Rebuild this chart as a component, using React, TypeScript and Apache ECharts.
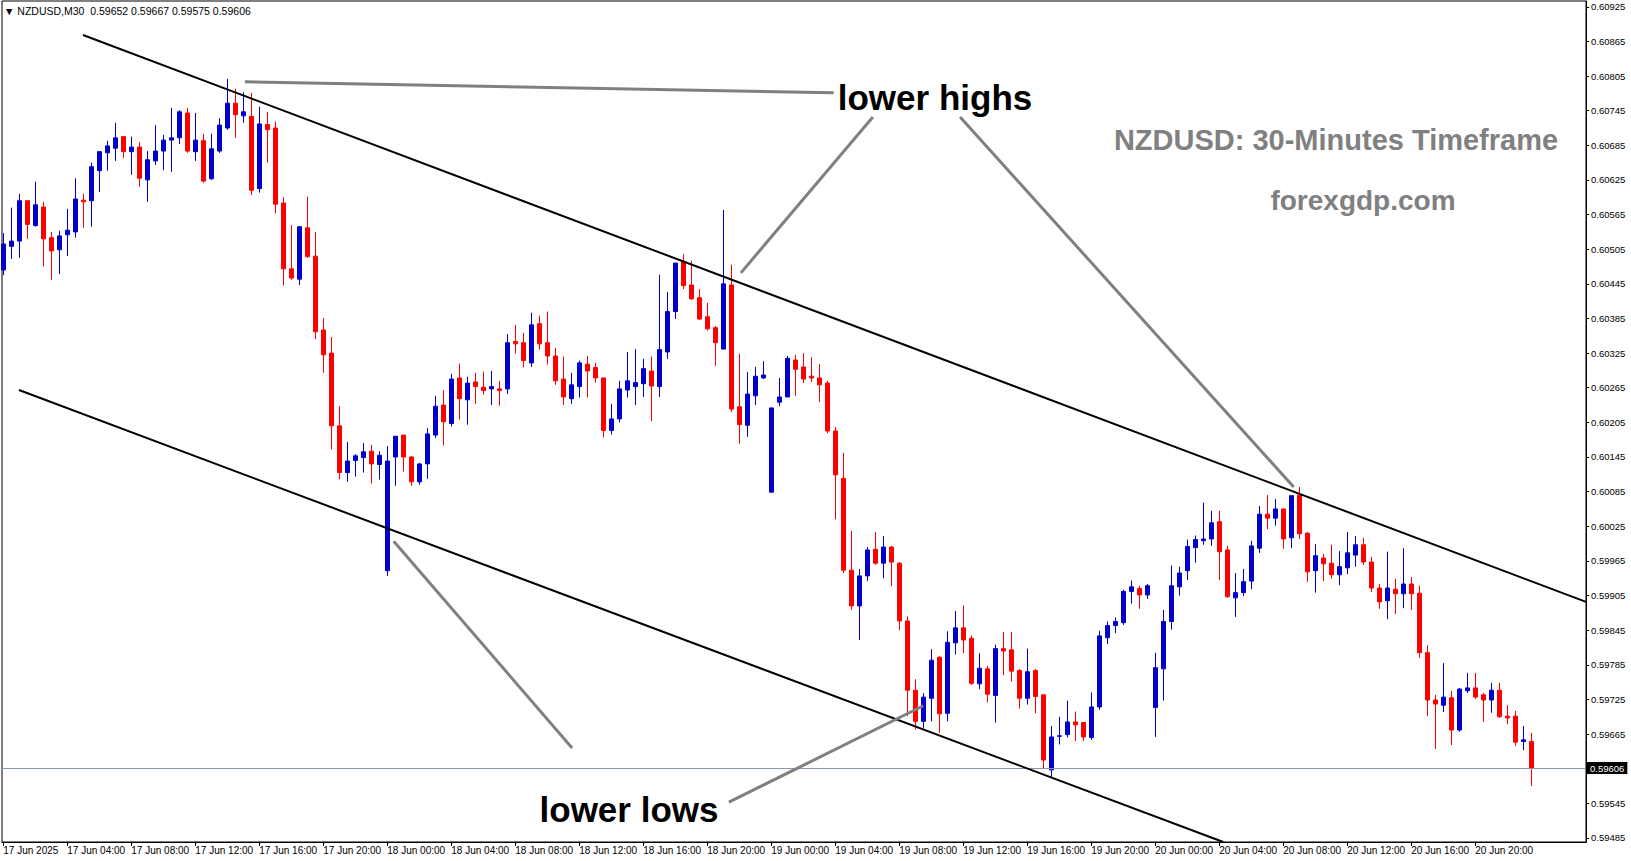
import React, { useEffect, useRef } from 'react';
import * as echarts from 'echarts';

// ---- Data: NZDUSD M30 candles (index 0 = 17 Jun 2025 00:00) ----
const OPEN = [
  0.60469, 0.60510, 0.60519, 0.60589, 0.60546, 0.60578, 0.60525, 0.60504, 0.60530, 0.60535,
  0.60590, 0.60589, 0.60641, 0.60672, 0.60680, 0.60700, 0.60674, 0.60682, 0.60625, 0.60658,
  0.60675, 0.60694, 0.60698, 0.60741, 0.60674, 0.60693, 0.60627, 0.60675, 0.60715, 0.60758,
  0.60736, 0.60735, 0.60610, 0.60721, 0.60715, 0.60585, 0.60471, 0.60453, 0.60542, 0.60493,
  0.60365, 0.60325, 0.60199, 0.60118, 0.60139, 0.60144, 0.60155, 0.60132, 0.59948, 0.60145,
  0.60183, 0.60145, 0.60102, 0.60133, 0.60183, 0.60235, 0.60203, 0.60282, 0.60244, 0.60275,
  0.60266, 0.60263, 0.60263, 0.60263, 0.60345, 0.60343, 0.60308, 0.60376, 0.60343, 0.60320,
  0.60280, 0.60246, 0.60267, 0.60306, 0.60300, 0.60282, 0.60191, 0.60211, 0.60261, 0.60267,
  0.60272, 0.60294, 0.60267, 0.60327, 0.60397, 0.60483, 0.60443, 0.60421, 0.60388, 0.60369,
  0.60332, 0.60443, 0.60232, 0.60200, 0.60251, 0.60282, 0.60084, 0.60240, 0.60249, 0.60313,
  0.60301, 0.60285, 0.60282, 0.60273, 0.60190, 0.60108, 0.59949, 0.59887, 0.59939, 0.59985,
  0.59961, 0.59989, 0.59961, 0.59861, 0.59741, 0.59687, 0.59727, 0.59798, 0.59701, 0.59823,
  0.59849, 0.59831, 0.59752, 0.59778, 0.59732, 0.59813, 0.59811, 0.59775, 0.59727, 0.59775,
  0.59733, 0.59603, 0.59661, 0.59664, 0.59686, 0.59685, 0.59659, 0.59712, 0.59832, 0.59853,
  0.59858, 0.59912, 0.59917, 0.59906, 0.59711, 0.59778, 0.59860, 0.59920, 0.59948, 0.59988,
  0.60000, 0.60003, 0.60033, 0.59984, 0.59901, 0.59910, 0.59930, 0.59987, 0.60046, 0.60039,
  0.60055, 0.60005, 0.60079, 0.60013, 0.59948, 0.59970, 0.59961, 0.59941, 0.59953, 0.59975,
  0.59993, 0.59963, 0.59918, 0.59896, 0.59916, 0.59908, 0.59925, 0.59909, 0.59806, 0.59724,
  0.59715, 0.59728, 0.59672, 0.59740, 0.59745, 0.59733, 0.59724, 0.59741, 0.59696, 0.59696,
  0.59652, 0.59652,
];
const HIGH = [
  0.60533, 0.60577, 0.60601, 0.60589, 0.60622, 0.60587, 0.60535, 0.60537, 0.60575, 0.60628,
  0.60601, 0.60655, 0.60674, 0.60693, 0.60724, 0.60701, 0.60700, 0.60691, 0.60675, 0.60720,
  0.60703, 0.60750, 0.60746, 0.60750, 0.60741, 0.60705, 0.60705, 0.60732, 0.60800, 0.60783,
  0.60777, 0.60776, 0.60752, 0.60743, 0.60726, 0.60595, 0.60547, 0.60544, 0.60596, 0.60535,
  0.60386, 0.60353, 0.60233, 0.60171, 0.60150, 0.60169, 0.60166, 0.60155, 0.60164, 0.60181,
  0.60183, 0.60147, 0.60135, 0.60195, 0.60251, 0.60261, 0.60289, 0.60307, 0.60284, 0.60291,
  0.60293, 0.60294, 0.60277, 0.60358, 0.60374, 0.60360, 0.60395, 0.60390, 0.60397, 0.60334,
  0.60319, 0.60291, 0.60312, 0.60320, 0.60308, 0.60282, 0.60237, 0.60277, 0.60327, 0.60332,
  0.60315, 0.60319, 0.60461, 0.60431, 0.60481, 0.60497, 0.60485, 0.60436, 0.60412, 0.60372,
  0.60573, 0.60478, 0.60324, 0.60292, 0.60301, 0.60311, 0.60230, 0.60282, 0.60320, 0.60322,
  0.60325, 0.60318, 0.60306, 0.60277, 0.60197, 0.60152, 0.60017, 0.59951, 0.59989, 0.60015,
  0.60008, 0.59991, 0.59963, 0.59869, 0.59760, 0.59736, 0.59812, 0.59800, 0.59843, 0.59878,
  0.59888, 0.59836, 0.59805, 0.59783, 0.59820, 0.59842, 0.59842, 0.59778, 0.59813, 0.59778,
  0.59733, 0.59679, 0.59695, 0.59723, 0.59704, 0.59686, 0.59737, 0.59844, 0.59860, 0.59867,
  0.59915, 0.59931, 0.59922, 0.59925, 0.59806, 0.59880, 0.59957, 0.59955, 0.60002, 0.60009,
  0.60066, 0.60052, 0.60052, 0.59991, 0.59944, 0.59951, 0.60000, 0.60060, 0.60079, 0.60072,
  0.60055, 0.60078, 0.60093, 0.60015, 0.59994, 0.59977, 0.59993, 0.59982, 0.60015, 0.60008,
  0.60005, 0.59972, 0.59925, 0.59981, 0.59934, 0.59987, 0.59937, 0.59922, 0.59819, 0.59733,
  0.59788, 0.59740, 0.59745, 0.59771, 0.59771, 0.59736, 0.59754, 0.59754, 0.59715, 0.59705,
  0.59679, 0.59667,
];
const LOW = [
  0.60460, 0.60488, 0.60490, 0.60523, 0.60544, 0.60475, 0.60452, 0.60462, 0.60493, 0.60525,
  0.60542, 0.60544, 0.60604, 0.60641, 0.60658, 0.60663, 0.60634, 0.60613, 0.60587, 0.60651,
  0.60642, 0.60639, 0.60687, 0.60672, 0.60658, 0.60620, 0.60625, 0.60672, 0.60712, 0.60698,
  0.60724, 0.60599, 0.60603, 0.60655, 0.60567, 0.60442, 0.60452, 0.60443, 0.60490, 0.60349,
  0.60291, 0.60158, 0.60106, 0.60102, 0.60111, 0.60118, 0.60099, 0.60106, 0.59939, 0.60095,
  0.60120, 0.60095, 0.60097, 0.60107, 0.60178, 0.60165, 0.60198, 0.60210, 0.60201, 0.60237,
  0.60253, 0.60235, 0.60234, 0.60254, 0.60324, 0.60300, 0.60301, 0.60331, 0.60305, 0.60270,
  0.60235, 0.60237, 0.60248, 0.60248, 0.60274, 0.60179, 0.60184, 0.60205, 0.60248, 0.60235,
  0.60249, 0.60207, 0.60249, 0.60315, 0.60384, 0.60436, 0.60417, 0.60383, 0.60364, 0.60303,
  0.60331, 0.60223, 0.60168, 0.60180, 0.60235, 0.60280, 0.60084, 0.60233, 0.60249, 0.60251,
  0.60273, 0.60275, 0.60240, 0.60186, 0.60037, 0.59944, 0.59880, 0.59828, 0.59930, 0.59958,
  0.59935, 0.59921, 0.59845, 0.59696, 0.59673, 0.59675, 0.59687, 0.59667, 0.59687, 0.59803,
  0.59805, 0.59750, 0.59743, 0.59720, 0.59685, 0.59767, 0.59756, 0.59709, 0.59716, 0.59701,
  0.59606, 0.59589, 0.59647, 0.59659, 0.59653, 0.59653, 0.59655, 0.59707, 0.59821, 0.59840,
  0.59854, 0.59891, 0.59882, 0.59899, 0.59660, 0.59723, 0.59846, 0.59905, 0.59932, 0.59962,
  0.59993, 0.59991, 0.59932, 0.59901, 0.59868, 0.59904, 0.59916, 0.59979, 0.60020, 0.60026,
  0.59986, 0.59987, 0.60003, 0.59929, 0.59910, 0.59930, 0.59934, 0.59923, 0.59942, 0.59955,
  0.59958, 0.59911, 0.59882, 0.59864, 0.59873, 0.59883, 0.59880, 0.59797, 0.59696, 0.59639,
  0.59703, 0.59646, 0.59669, 0.59736, 0.59726, 0.59686, 0.59702, 0.59693, 0.59682, 0.59644,
  0.59637, 0.59575,
];
const CLOSE = [
  0.60514, 0.60519, 0.60589, 0.60548, 0.60582, 0.60523, 0.60502, 0.60528, 0.60538, 0.60592,
  0.60587, 0.60648, 0.60674, 0.60684, 0.60698, 0.60674, 0.60682, 0.60628, 0.60660, 0.60675,
  0.60694, 0.60698, 0.60743, 0.60675, 0.60694, 0.60623, 0.60679, 0.60720, 0.60758, 0.60738,
  0.60743, 0.60607, 0.60722, 0.60712, 0.60583, 0.60471, 0.60455, 0.60544, 0.60492, 0.60362,
  0.60322, 0.60199, 0.60118, 0.60138, 0.60147, 0.60154, 0.60133, 0.60148, 0.60138, 0.60181,
  0.60145, 0.60102, 0.60133, 0.60185, 0.60233, 0.60206, 0.60280, 0.60246, 0.60273, 0.60267,
  0.60260, 0.60267, 0.60260, 0.60343, 0.60341, 0.60312, 0.60374, 0.60341, 0.60320, 0.60277,
  0.60249, 0.60270, 0.60308, 0.60294, 0.60282, 0.60191, 0.60211, 0.60263, 0.60277, 0.60274,
  0.60298, 0.60268, 0.60331, 0.60397, 0.60481, 0.60442, 0.60419, 0.60384, 0.60367, 0.60343,
  0.60445, 0.60228, 0.60201, 0.60254, 0.60285, 0.60287, 0.60230, 0.60249, 0.60316, 0.60297,
  0.60280, 0.60282, 0.60270, 0.60190, 0.60114, 0.59949, 0.59887, 0.59939, 0.59984, 0.59961,
  0.59989, 0.59963, 0.59861, 0.59741, 0.59687, 0.59729, 0.59793, 0.59700, 0.59824, 0.59849,
  0.59828, 0.59753, 0.59779, 0.59734, 0.59813, 0.59809, 0.59774, 0.59727, 0.59773, 0.59730,
  0.59620, 0.59660, 0.59662, 0.59686, 0.59681, 0.59660, 0.59712, 0.59835, 0.59853, 0.59860,
  0.59912, 0.59920, 0.59906, 0.59922, 0.59780, 0.59860, 0.59922, 0.59944, 0.59990, 0.60002,
  0.60003, 0.60031, 0.59981, 0.59903, 0.59910, 0.59929, 0.59991, 0.60046, 0.60039, 0.60055,
  0.60003, 0.60078, 0.60012, 0.59946, 0.59974, 0.59960, 0.59941, 0.59955, 0.59979, 0.59993,
  0.59963, 0.59918, 0.59894, 0.59918, 0.59908, 0.59925, 0.59908, 0.59806, 0.59724, 0.59717,
  0.59729, 0.59672, 0.59743, 0.59745, 0.59729, 0.59724, 0.59741, 0.59695, 0.59693, 0.59651,
  0.59655, 0.59606,
];

const TIME_LABELS = [
  '17 Jun 2025', '17 Jun 04:00', '17 Jun 08:00', '17 Jun 12:00', '17 Jun 16:00', '17 Jun 20:00',
  '18 Jun 00:00', '18 Jun 04:00', '18 Jun 08:00', '18 Jun 12:00', '18 Jun 16:00', '18 Jun 20:00',
  '19 Jun 00:00', '19 Jun 04:00', '19 Jun 08:00', '19 Jun 12:00', '19 Jun 16:00', '19 Jun 20:00',
  '20 Jun 00:00', '20 Jun 04:00', '20 Jun 08:00', '20 Jun 12:00', '20 Jun 16:00', '20 Jun 20:00',
];
const BARS_PER_LABEL = 8;

const PRICE_TICKS = [
  0.59485, 0.59545, 0.59665, 0.59725, 0.59785, 0.59845, 0.59905, 0.59965, 0.60025,
  0.60085, 0.60145, 0.60205, 0.60265, 0.60325, 0.60385, 0.60445, 0.60505, 0.60565,
  0.60625, 0.60685, 0.60745, 0.60805, 0.60865, 0.60925,
];
const LAST_PRICE = 0.59606;
const HEADER_TEXT = '\u25BC NZDUSD,M30  0.59652 0.59667 0.59575 0.59606';

// Annotation lines in [bar index, price]
const UPPER_CHANNEL = [[9.96, 0.60876], [197.84, 0.59894]];
const LOWER_CHANNEL = [[1.96, 0.60261], [152.5, 0.59478]];
const HIGH_MARKER = [[30.2, 0.60795], [103.8, 0.60776]];
const POINTERS = [
  [[108.7, 0.60734], [92.2, 0.60464]],
  [[119.6, 0.60734], [161.3, 0.60093]],
  [[48.8, 0.59999], [71.1, 0.59641]],
  [[90.7, 0.59547], [115.0, 0.59714]],
];

const X_MIN = -0.1625;
const X_MAX = 197.84;
const Y_MIN = 0.59478;
const Y_MAX = 0.60935;

export default function App() {
  const ref = useRef<HTMLDivElement>(null);

  useEffect(() => {
    if (!ref.current) return;
    const chart = echarts.init(ref.current, undefined, { renderer: 'svg' });

    const data = OPEN.map((o, i) => [i, o, CLOSE[i], LOW[i], HIGH[i]]);
    const labelValues = TIME_LABELS.map((_, k) => k * BARS_PER_LABEL);

    const seg = (pts: number[][], color: string, width: number) => [
      { coord: pts[0], lineStyle: { color, width, type: 'solid' } },
      { coord: pts[1] },
    ];

    const font = 'Liberation Sans, Arial, sans-serif';

    chart.setOption({
      animation: false,
      backgroundColor: '#ffffff',
      grid: { left: 2, right: 45, top: 1, bottom: 19, show: true, borderColor: '#000', borderWidth: 1, backgroundColor: 'transparent' },
      xAxis: {
        type: 'value',
        min: X_MIN,
        max: X_MAX,
        splitLine: { show: false },
        axisLine: { show: true, onZero: false, lineStyle: { color: '#000', width: 1 } },
        axisTick: { show: true, length: 4, lineStyle: { color: '#000' }, customValues: labelValues },
        axisLabel: {
          show: true,
          customValues: labelValues,
          formatter: (v: number) => TIME_LABELS[Math.round(v / BARS_PER_LABEL)] ?? '',
          align: 'left',
          margin: 3,
          color: '#000',
          fontSize: 10,
          fontFamily: font,
        },
      },
      yAxis: {
        type: 'value',
        position: 'right',
        min: Y_MIN,
        max: Y_MAX,
        scale: true,
        splitLine: { show: false },
        axisLine: { show: true, onZero: false, lineStyle: { color: '#000', width: 1 } },
        axisTick: { show: true, length: 3, lineStyle: { color: '#000' }, customValues: PRICE_TICKS },
        axisLabel: {
          show: true,
          customValues: PRICE_TICKS,
          formatter: (v: number) => v.toFixed(5),
          margin: 5,
          color: '#000',
          fontSize: 9.5,
          fontFamily: font,
        },
      },
      series: [
        {
          type: 'candlestick',
          data,
          dimensions: ['idx', 'open', 'close', 'lowest', 'highest'],
          encode: { x: 0, y: [1, 2, 3, 4] },
          barWidth: 4,
          silent: true,
          itemStyle: {
            color: '#0000CD',
            color0: '#FF0000',
            borderColor: '#0000CD',
            borderColor0: '#FF0000',
            borderWidth: 1,
          },
          markLine: {
            silent: true,
            symbol: ['none', 'none'],
            label: { show: false },
            data: [
              [
                {
                  coord: [X_MIN, LAST_PRICE],
                  lineStyle: { color: '#8796a8', width: 1, type: 'solid' },
                  label: {
                    show: true,
                    position: 'end',
                    distance: 1,
                    formatter: LAST_PRICE.toFixed(5),
                    backgroundColor: '#000',
                    color: '#fff',
                    padding: [1, 3, 1, 3],
                    fontSize: 9.5,
                    fontFamily: font,
                  },
                },
                { coord: [X_MAX, LAST_PRICE] },
              ],
              seg(UPPER_CHANNEL, '#000000', 2),
              seg(LOWER_CHANNEL, '#000000', 2),
              seg(HIGH_MARKER, '#808080', 3),
              ...POINTERS.map((p) => seg(p, '#808080', 3)),
            ],
          },
        },
      ],
      graphic: [
        {
          type: 'text', x: 4, y: 11,
          style: { text: HEADER_TEXT, fontSize: 10.5, fontFamily: font, fill: '#000', verticalAlign: 'middle', align: 'left' },
        },
        {
          type: 'text', x: 935, y: 97,
          style: { text: 'lower highs', fontSize: 35, fontWeight: 'bold', fontFamily: font, fill: '#000', align: 'center', verticalAlign: 'middle' },
        },
        {
          type: 'text', x: 629, y: 809,
          style: { text: 'lower lows', fontSize: 35, fontWeight: 'bold', fontFamily: font, fill: '#000', align: 'center', verticalAlign: 'middle' },
        },
        {
          type: 'text', x: 1336, y: 140,
          style: { text: 'NZDUSD: 30-Minutes Timeframe', fontSize: 29, fontWeight: 'bold', fontFamily: font, fill: '#808080', align: 'center', verticalAlign: 'middle' },
        },
        {
          type: 'text', x: 1363, y: 200,
          style: { text: 'forexgdp.com', fontSize: 28, fontWeight: 'bold', fontFamily: font, fill: '#808080', align: 'center', verticalAlign: 'middle' },
        },
      ],
    });

    return () => chart.dispose();
  }, []);

  return <div ref={ref} style={{ position: 'fixed', left: 0, top: 0, width: 1631, height: 861 }} />;
}
